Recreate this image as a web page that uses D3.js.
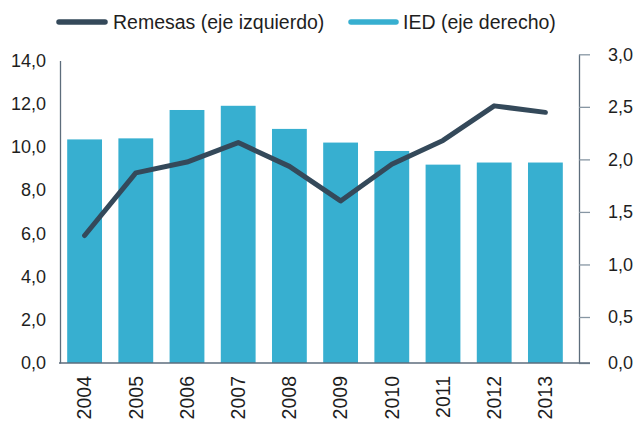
<!DOCTYPE html>
<html>
<head>
<meta charset="utf-8">
<script src="https://cdn.jsdelivr.net/npm/d3@7/dist/d3.min.js"></script>
<style>
  body { margin: 0; background: #fff; }
  svg { display: block; font-family: "Liberation Sans", Arial, sans-serif; }
  .tick text, .lbl { fill: #1e1e1e; font-size: 18px; }
  .year { font-size: 19.5px; }
  .legend text { font-size: 19.5px; }
</style>
</head>
<body>
<div id="chart"></div>
<script>
// DATA
////////////////////////////
var years = ["2004", "2005", "2006", "2007", "2008", "2009", "2010", "2011", "2012", "2013"];
var remesas = [5.9, 8.8, 9.3, 10.2, 9.1, 7.5, 9.2, 10.3, 11.9, 11.6];   // eje izquierdo
var ied = [2.19, 2.20, 2.47, 2.51, 2.29, 2.16, 2.08, 1.95, 1.97, 1.97]; // eje derecho
var leftTicks = [0, 2, 4, 6, 8, 10, 12, 14];
var rightTicks = [0, 0.5, 1, 1.5, 2, 2.5, 3];
var legendLabels = ["Remesas (eje izquierdo)", "IED (eje derecho)"];

// SETUP
////////////////////////////
var width = 636,
    height = 427;

var lineColor = "#34495a",
    barColor = "#37afd0",
    axisColor = "#5d6d7c";

var svg = d3.select("#chart").append("svg")
    .attr("width", width)
    .attr("height", height);

// spanish number format: comma decimal
var es = d3.formatLocale({decimal: ",", thousands: ".", grouping: [3], currency: ["", " €"]});
var fmt = es.format(".1f");

var x = d3.scaleBand()
    .domain(years)
    .range([59, 571])
    .paddingInner(0.32)
    .paddingOuter(0.16);

var yLeft = d3.scaleLinear()
    .domain([0, 14])
    .range([363, 60.5]);

// right axis in the original isn't evenly spaced at the bottom, so a polylinear scale
var yRight = d3.scaleLinear()
    .domain([0, 0.5, 3])
    .range([363, 317, 54.3]);

// BARS (IED)
////////////////////////////
svg.selectAll("rect.bar")
  .data(ied)
  .enter().append("rect")
    .attr("class", "bar")
    .attr("x", function(d, i) { return x(years[i]); })
    .attr("width", x.bandwidth())
    .attr("y", function(d) { return yRight(d); })
    .attr("height", function(d) { return yLeft(0) - yRight(d); })
    .style("fill", barColor);

// AXES
////////////////////////////
var leftAxis = svg.append("g")
    .attr("transform", "translate(60,0)")
    .call(d3.axisLeft(yLeft).tickValues(leftTicks).tickFormat(fmt).tickSize(0).tickPadding(14));
leftAxis.select(".domain").attr("stroke", axisColor).attr("stroke-width", 1.3);
leftAxis.selectAll("text").attr("class", "lbl").attr("font-family", null).attr("font-size", null);

var rightAxis = svg.append("g")
    .attr("transform", "translate(579,0)")
    .call(d3.axisRight(yRight).tickValues(rightTicks).tickFormat(fmt).tickSizeInner(11).tickSizeOuter(0).tickPadding(18));
rightAxis.select(".domain").attr("stroke", axisColor).attr("stroke-width", 1.3);
rightAxis.selectAll("line").attr("stroke", "#8796a3").attr("stroke-width", 1.3);
rightAxis.selectAll("text").attr("class", "lbl").attr("font-family", null).attr("font-size", null);

// baseline
svg.append("line")
    .attr("x1", 59).attr("x2", 590)
    .attr("y1", yLeft(0)).attr("y2", yLeft(0))
    .attr("stroke", axisColor)
    .attr("stroke-width", 1.3);

// year labels, rotated
svg.selectAll("text.year")
  .data(years)
  .enter().append("text")
    .attr("class", "lbl year")
    .attr("text-anchor", "end")
    .attr("dy", "0.35em")
    .attr("transform", function(d) {
      return "translate(" + (x(d) + x.bandwidth() / 2) + "," + (yLeft(0) + 13) + ") rotate(-90)";
    })
    .text(function(d) { return d; });

// LINE (Remesas)
////////////////////////////
var line = d3.line()
    .x(function(d, i) { return x(years[i]) + x.bandwidth() / 2; })
    .y(function(d) { return yLeft(d); });

svg.append("path")
    .datum(remesas)
    .attr("d", line)
    .attr("fill", "none")
    .attr("stroke", lineColor)
    .attr("stroke-width", 5)
    .attr("stroke-linejoin", "round")
    .attr("stroke-linecap", "round");

// LEGEND
////////////////////////////
var legendX = [[59, 105, 113], [351, 396, 403]];
var legendColors = [lineColor, barColor];
var legend = svg.selectAll("g.legend")
  .data(legendLabels)
  .enter().append("g")
    .attr("class", "legend");

legend.append("line")
    .attr("x1", function(d, i) { return legendX[i][0]; })
    .attr("x2", function(d, i) { return legendX[i][1]; })
    .attr("y1", 22).attr("y2", 22)
    .attr("stroke", function(d, i) { return legendColors[i]; })
    .attr("stroke-width", 5.5)
    .attr("stroke-linecap", "round");

legend.append("text")
    .attr("class", "lbl")
    .attr("x", function(d, i) { return legendX[i][2]; })
    .attr("y", 22)
    .attr("dy", "0.35em")
    .text(function(d) { return d; });
</script>
</body>
</html>
